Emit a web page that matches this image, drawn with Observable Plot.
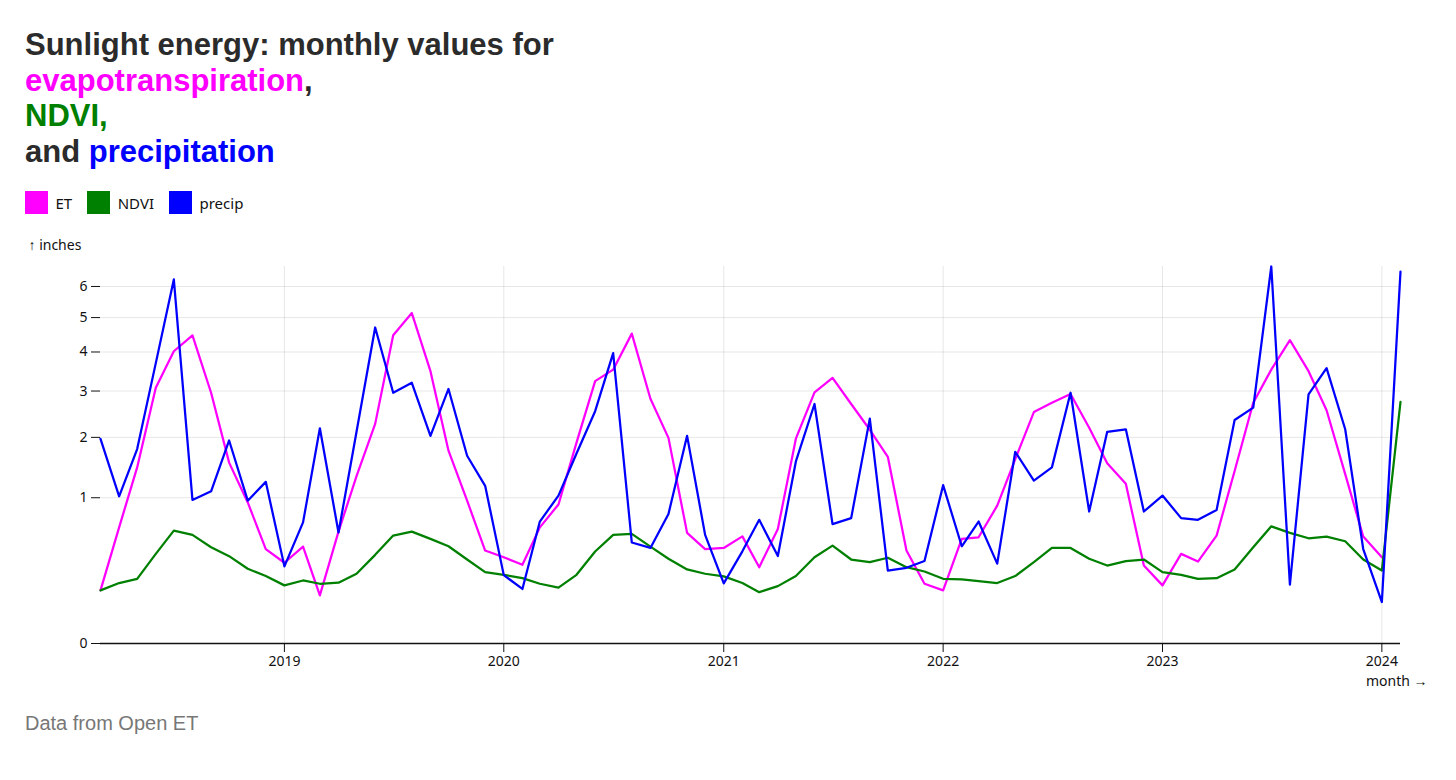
<!DOCTYPE html>
<html>
<head>
<meta charset="utf-8">
<script src="https://cdn.jsdelivr.net/npm/d3@7"></script>
<script src="https://cdn.jsdelivr.net/npm/@observablehq/plot@0.6"></script>
<style>
  html, body { margin: 0; padding: 0; background: #fff; }
  #wrap { padding: 27px 0 0 25px; }
  h1 { margin: 0; font-family: "Liberation Sans", Arial, sans-serif; font-weight: bold; font-size: 31px; line-height: 35.5px; color: #2b2b2b; }
  .et { color: #ff00ff; } .ndvi { color: #008000; } .pr { color: #0000ff; }
  #legend { margin-top: 17px; }
  #chart { margin-top: 18px; }
  .caption { margin: 24px 0 0 0; font-family: "Liberation Sans", Arial, sans-serif; font-size: 20px; color: #777; }
</style>
</head>
<body>
<div id="wrap">
  <h1>Sunlight energy: monthly values for<br><span class="et">evapotranspiration</span>,<br><span class="ndvi">NDVI,</span><br>and <span class="pr">precipitation</span></h1>
  <div id="legend"></div>
  <div id="chart"></div>
  <p class="caption">Data from Open ET</p>
</div>
<script>
const months = [
  "2018-03","2018-04","2018-05","2018-06","2018-07","2018-08","2018-09","2018-10","2018-11","2018-12",
  "2019-01","2019-02","2019-03","2019-04","2019-05","2019-06","2019-07","2019-08","2019-09","2019-10","2019-11","2019-12",
  "2020-01","2020-02","2020-03","2020-04","2020-05","2020-06","2020-07","2020-08","2020-09","2020-10","2020-11","2020-12",
  "2021-01","2021-02","2021-03","2021-04","2021-05","2021-06","2021-07","2021-08","2021-09","2021-10","2021-11","2021-12",
  "2022-01","2022-02","2022-03","2022-04","2022-05","2022-06","2022-07","2022-08","2022-09","2022-10","2022-11","2022-12",
  "2023-01","2023-02","2023-03","2023-04","2023-05","2023-06","2023-07","2023-08","2023-09","2023-10","2023-11","2023-12",
  "2024-01","2024-02"
];
const et = [
  0.133, 0.635, 1.46, 3.08, 4.02, 4.47, 2.96, 1.54, 0.937, 0.42,
  0.307, 0.442, 0.109, 0.589, 1.32, 2.27, 4.47, 5.14, 3.49, 1.75, 0.96, 0.407,
  0.35, 0.292, 0.635, 0.91, 1.90, 3.24, 3.53, 4.52, 2.82, 1.99, 0.576, 0.42,
  0.43, 0.54, 0.274, 0.618, 1.975, 2.97, 3.32, 2.70, 2.15, 1.64, 0.407, 0.168,
  0.133, 0.515, 0.531, 0.894, 1.60, 2.52, 2.73, 2.93, 2.19, 1.53, 1.20, 0.286,
  0.159, 0.378, 0.316, 0.548, 1.40, 2.73, 3.53, 4.33, 3.49, 2.56, 1.35, 0.538,
  0.35, null
];
const ndvi = [
  0.133, 0.172, 0.197, 0.378, 0.60, 0.555, 0.436, 0.359, 0.263, 0.214,
  0.159, 0.187, 0.168, 0.174, 0.229, 0.37, 0.548, 0.589, 0.515, 0.445, 0.332, 0.24,
  0.222, 0.201, 0.168, 0.147, 0.222, 0.398, 0.555, 0.565, 0.442, 0.338, 0.258, 0.229,
  0.212, 0.172, 0.124, 0.155, 0.214, 0.35, 0.451, 0.332, 0.311, 0.346, 0.274, 0.244,
  0.197, 0.193, 0.183, 0.172, 0.214, 0.311, 0.43, 0.43, 0.338, 0.286, 0.319, 0.332,
  0.24, 0.222, 0.197, 0.201, 0.258, 0.436, 0.646, 0.576, 0.521, 0.538, 0.492, 0.332,
  0.251, 2.75
];
const precip = [
  1.97, 1.02, 1.78, 3.7, 6.24, 0.97, 1.09, 1.94, 0.96, 1.23,
  0.28, 0.69, 2.18, 0.58, 2.11, 4.70, 2.96, 3.20, 2.03, 3.05, 1.66, 1.17,
  0.22, 0.14, 0.70, 1.03, 1.70, 2.54, 3.97, 0.48, 0.43, 0.79, 2.03, 0.555,
  0.17, 0.40, 0.72, 0.36, 1.56, 2.70, 0.67, 0.74, 2.38, 0.25, 0.27, 0.32,
  1.18, 0.445, 0.70, 0.30, 1.73, 1.25, 1.46, 2.96, 0.82, 2.11, 2.16, 0.82,
  1.03, 0.74, 0.72, 0.84, 2.35, 2.62, 6.69, 0.163, 2.92, 3.57, 2.16, 0.42,
  0.081, 6.51
];
const seriesNames = ["ET", "NDVI", "precip"];
const seriesColors = ["magenta", "green", "blue"];
const yTicks = [0, 1, 2, 3, 4, 5, 6];
const yearTicks = ["2019-01", "2020-01", "2021-01", "2022-01", "2023-01", "2024-01"];

const parse = d3.utcParse("%Y-%m");
const values = {ET: et, NDVI: ndvi, precip: precip};
const table = seriesNames.flatMap(s => months.map((m, i) => ({month: parse(m), series: s, value: values[s][i]})));

const colorOpts = {domain: seriesNames, range: seriesColors, type: "ordinal"};

document.getElementById("legend").append(
  Plot.legend({color: colorOpts, swatchSize: 23, style: {fontSize: "15px", fontFamily: "Noto Sans", color: "#111"}})
);

const chart = Plot.plot({
  width: 1405,
  height: 451,
  marginLeft: 75,
  marginRight: 30,
  marginTop: 29,
  marginBottom: 45,
  style: {fontSize: "14px", fontFamily: "Noto Sans", color: "#111", overflow: "visible"},
  x: {type: "utc", label: "month", grid: true, ticks: yearTicks.map(parse), tickFormat: d3.utcFormat("%Y"), tickSize: 9, tickPadding: 4},
  y: {type: "sqrt", label: "inches", grid: true, ticks: yTicks, tickFormat: d3.format("d"), tickSize: 9, tickPadding: 4},
  color: colorOpts,
  marks: [
    Plot.ruleY([0], {strokeWidth: 1.5}),
    Plot.lineY(table, {x: "month", y: "value", stroke: "series", strokeWidth: 2.25})
  ]
});
document.getElementById("chart").append(chart);
</script>
</body>
</html>
